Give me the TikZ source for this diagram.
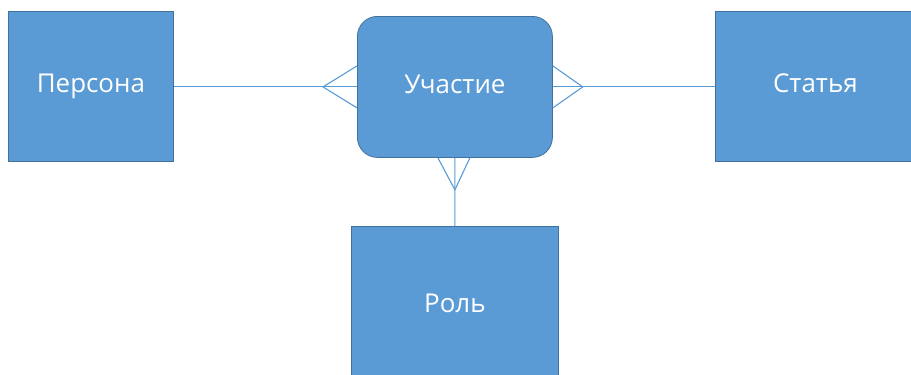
\documentclass[tikz,border=0pt]{standalone}
\usepackage{fontspec}
\setmainfont{Open Sans}
\usetikzlibrary{calc}
\definecolor{boxfill}{HTML}{5B9BD5}
\definecolor{boxline}{HTML}{41719C}
\definecolor{linkcol}{HTML}{5B9BD5}
\begin{document}
\begin{tikzpicture}[x=1bp,y=-1bp,
  entity/.style={draw=boxline, line width=0.8bp, fill=boxfill, text=white,
    font=\fontsize{26}{30}\selectfont, text height=1.3em, text depth=0pt,
    inner sep=0pt, anchor=north west},
  assoc/.style={entity, rounded corners=20bp},
  link/.style={draw=linkcol, line width=1.1bp}]
\useasboundingbox (0,0) rectangle (911,374);
% entities
\node[entity, minimum width=165bp, minimum height=150bp] (persona) at (8,11) {Персона};
\node[entity, minimum width=200bp, minimum height=150bp] (statya) at (715,11) {Статья};
\node[entity, minimum width=207bp, minimum height=160bp] (rol) at (351,226) {Роль};
\node[assoc, minimum width=195bp, minimum height=141bp] (uch) at (357,16) {Участие};
% connectors
\draw[link] (persona.east |- uch.west) -- (uch.west);
\draw[link] (uch.east) -- (statya.west |- uch.east);
\draw[link] (uch.south) -- (rol.north);
% crow's feet at the association
\coordinate (lv) at ($(uch.west)+(-34,0)$);
\draw[link] ($(uch.west)+(0,-21)$) -- (lv) -- ($(uch.west)+(0,21)$);
\coordinate (rv) at ($(uch.east)+(30,0)$);
\draw[link] ($(uch.east)+(0,-21)$) -- (rv) -- ($(uch.east)+(0,21)$);
\coordinate (bv) at ($(uch.south)+(0,32)$);
\draw[link] ($(uch.south)+(-17,0)$) -- (bv) -- ($(uch.south)+(15,0)$);
\end{tikzpicture}
\end{document}
